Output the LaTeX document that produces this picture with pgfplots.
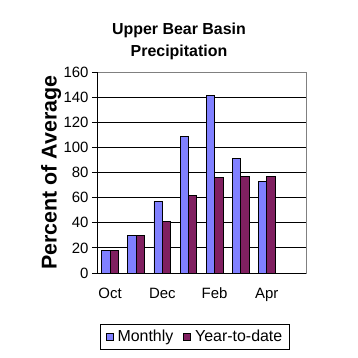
\documentclass[border=0pt]{standalone}
\usepackage{pgfplots}
\pgfplotsset{compat=1.18}
\usepackage{fontspec}
\setmainfont{Liberation Sans}
\definecolor{monthly}{HTML}{8080FF}
\definecolor{ytd}{HTML}{802060}
\begin{document}
\begin{tikzpicture}[x=1bp,y=1bp]
\useasboundingbox (0,0) rectangle (358,358);
\node[font=\fontsize{16}{22}\selectfont\bfseries, align=center] at (179,317) {Upper Bear Basin\\Precipitation};
\begin{axis}[
 at={(97bp,85bp)}, anchor=south west,
 width=209bp, height=201bp, scale only axis,
 ybar=0pt, bar width=0.32,
 xmin=-0.5, xmax=7.5, ymin=0, ymax=160,
 ytick={0,20,...,160},
 xtick={0,2,4,6}, xticklabels={Oct,Dec,Feb,Apr},
 major x tick style={draw=none},
 extra x ticks={-0.5,0.5,...,7.5}, extra x tick labels={},
 extra x tick style={major tick style={black, draw=black}},
 tick align=outside, tick pos=left,
 major tick length=5bp,
 tick style={black, line width=0.8bp},
 ymajorgrids, grid style={black, line width=0.8bp},
 axis line style={gray, line width=0.8bp},
 /pgf/number format/assume math mode=true,
 tick label style={font=\fontsize{15}{15}\selectfont},
 xticklabel style={text height=11bp, text depth=3bp, yshift=-6bp},
 ylabel={Percent of Average},
 ylabel style={font=\fontsize{21.5}{21.5}\selectfont\bfseries, at={(axis description cs:-0.22,0.5)}, anchor=center},
 legend style={at={(0.469,-0.254)}, anchor=north, legend columns=2, draw=black, line width=0.8bp,
   font=\fontsize{16}{16}\selectfont, inner ysep=4bp, inner xsep=5bp,
   /tikz/every odd column/.append style={column sep=2bp},
   /tikz/every even column/.append style={column sep=8bp}},
 legend image code/.code={\draw[#1, draw=black, line width=0.8bp] (0bp,-3.5bp) rectangle (7bp,3.5bp);},
]
\addplot[fill=monthly, draw=black, line width=0.8bp] coordinates {(0,18)(1,30)(2,57)(3,109)(4,141)(5,91)(6,73)};
\addplot[fill=ytd, draw=black, line width=0.8bp] coordinates {(0,18)(1,30)(2,41)(3,62)(4,76)(5,77)(6,77)};
\legend{Monthly,Year-to-date}
\draw[black, line width=0.8bp] (rel axis cs:0,0) -- (rel axis cs:0,1);
\draw[black, line width=0.8bp] (rel axis cs:0,0) -- (rel axis cs:1,0);
\end{axis}
\end{tikzpicture}
\end{document}
